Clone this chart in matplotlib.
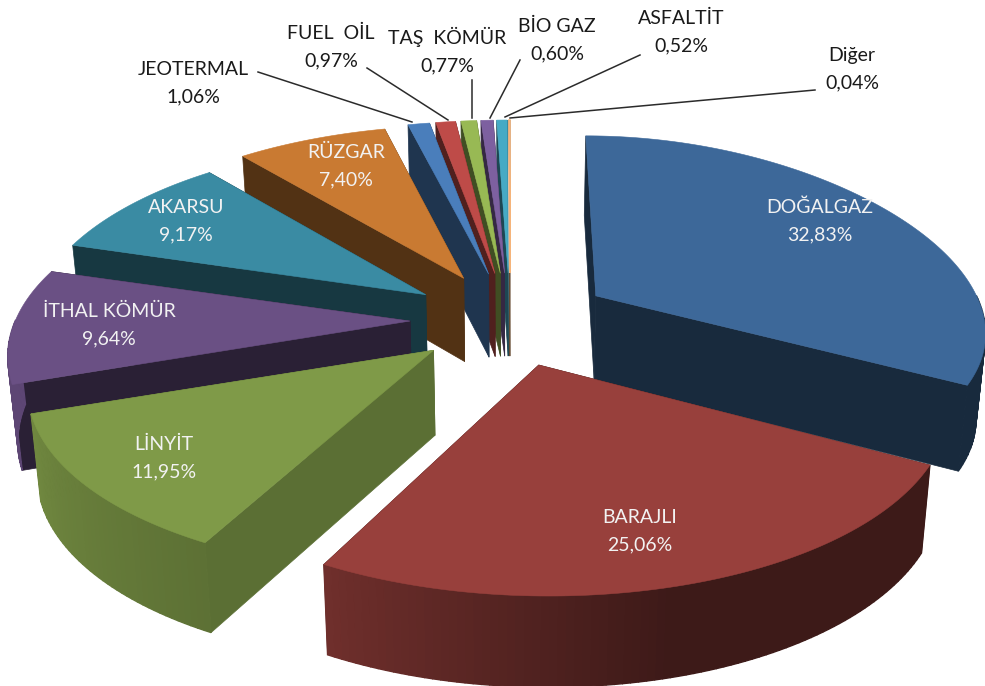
import numpy as np
import matplotlib
matplotlib.use("Agg")
import matplotlib.pyplot as plt
from matplotlib.patches import Polygon
from matplotlib.colors import to_rgb

# ---- data ----
categories = ["DOĞALGAZ", "BARAJLI", "LİNYİT", "İTHAL KÖMÜR", "AKARSU", "RÜZGAR",
              "JEOTERMAL", "FUEL  OİL", "TAŞ  KÖMÜR", "BİO GAZ", "ASFALTİT", "Diğer"]
values = [32.83, 25.06, 11.95, 9.64, 9.17, 7.40, 1.06, 0.97, 0.77, 0.60, 0.52, 0.04]

# ---- style ----
colors = ["#3d6899", "#98403c", "#7f9a48", "#6a5084", "#3a8ba3", "#c97a32",
          "#4a7ebb", "#be4b48", "#98b954", "#7d60a0", "#46aac5", "#f5b47a"]
face_shade = [0.40, 0.40, 0.72, 0.40, 0.40, 0.41, 0.42, 0.42, 0.42, 0.42, 0.42, 0.42]
x_scale = [0.94, 0.99, 0.98, 0.975, 0.96, 0.98, 1, 1, 1, 1, 1, 1]
ry_mid = [180, 195, 188, 188, 188, 188, 188, 188, 188, 188, 188, 188]
ry_tilt = [20, 36, 35, 35, 35, 35, 35, 35, 35, 35, 35, 35]
x_shear = [-10, -10, 8, 0, 0, 0, 0, 0, 0, 0, 0, 0]
edge_width = [0.4] * 11 + [1.2]
draw_order = [11, 10, 9, 8, 7, 6, 5, 4, 3, 2, 0, 1]
label_xy = [(820, 221), (640, 531), (164, 458), (109, 325), (186, 221), (346, 166),
            (193, 83), (331, 47), (447, 51), (557, 40), (681, 32), (852, 69)]
label_white = [True] * 6 + [False] * 6
leaders = [((258, 72), (412, 122)), ((367, 68), (448, 120)), ((472, 80), (472, 118)),
           ((520, 60), (490, 118)), ((640, 55), (505, 117)), ((815, 90), (510, 118))]

CX, CY = 510, 320
EX, EY = 100, 47

plt.rcParams["font.family"] = ["Lato", "DejaVu Sans"]
fig = plt.figure(figsize=(9.85, 6.86), dpi=100)
ax = fig.add_axes([0, 0, 1, 1])
ax.set_xlim(0, 985)
ax.set_ylim(686, 0)
ax.axis("off")


def shade(theta):
    return np.interp(theta, [90, 165, 208, 251, 270], [0.40, 0.40, 0.73, 0.88, 0.88])


def darker(col, f):
    return tuple(c * f for c in to_rgb(col))


def outer(theta, apex, i):
    t = np.radians(theta)
    X, Y = np.sin(t), np.cos(t)
    dx = (405 - 80 * Y) * X * x_scale[i] + x_shear[i] * Y
    dy = -(ry_mid[i] - ry_tilt[i] * Y) * Y
    return np.column_stack([apex[0] + dx, apex[1] + dy])


def lower(pts):
    pts = np.atleast_2d(pts)
    x = CX + (pts[:, 0] - CX) * 0.98
    y = pts[:, 1] + 85 + 0.025 * (pts[:, 1] - 350)
    return np.column_stack([x, y])


fracs = np.array(values) / np.sum(values)
edges = np.concatenate([[0], np.cumsum(fracs)]) * 360

for rank, i in enumerate(draw_order):
    a0, a1 = edges[i], edges[i + 1]
    mid = np.radians((a0 + a1) / 2)
    apex = np.array([CX + EX * np.sin(mid), CY - EY * np.cos(mid)])
    col = colors[i]
    face = darker(col, face_shade[i])
    thetas = np.linspace(a0, a1, max(int(a1 - a0), 4))
    rim = outer(thetas, apex, i)
    apex_low = lower(apex)[0]
    for p in (rim[0], rim[-1]):
        quad = [apex, p, lower(p)[0], apex_low]
        ax.add_patch(Polygon(quad, closed=True, fc=face, ec=face, lw=0.5, zorder=2 + rank * 3))
    low = lower(rim)
    for k in range(len(thetas) - 1):
        tm = (thetas[k] + thetas[k + 1]) / 2
        if 90 < tm < 270:
            c = darker(col, shade(tm))
            ax.add_patch(Polygon([rim[k], rim[k + 1], low[k + 1], low[k]], closed=True,
                                 fc=c, ec=c, lw=1.0, zorder=3 + rank * 3))
    ax.add_patch(Polygon(np.vstack([apex, rim]), closed=True, fc=col, ec=col, lw=edge_width[i],
                         zorder=4 + rank * 3))

for (p, q) in leaders:
    ax.plot([p[0], q[0]], [p[1], q[1]], color="#2b2b2b", lw=1.1, zorder=60)

for name, v, xy, w in zip(categories, values, label_xy, label_white):
    txt = name + "\n" + f"{v:.2f}".replace(".", ",") + "%"
    ax.text(xy[0], xy[1], txt, ha="center", va="center", fontsize=14, linespacing=1.75,
            color="#f2f2f2" if w else "#1a1a1a", zorder=70)

fig.savefig("out.png", dpi=100)
